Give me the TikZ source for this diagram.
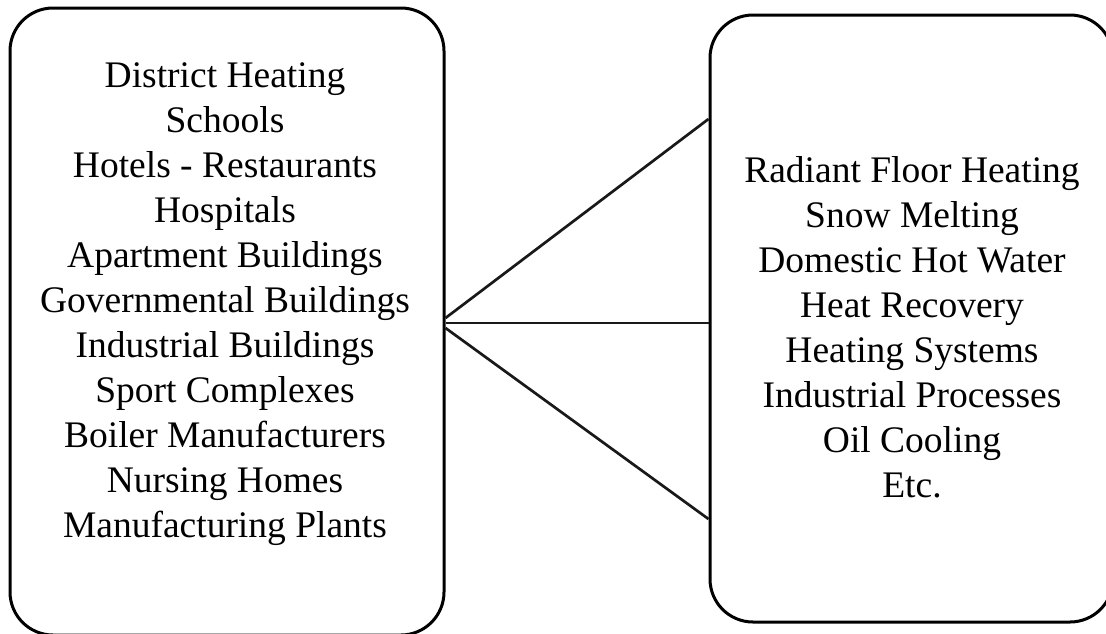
\documentclass[tikz,border=0pt]{standalone}
\usepackage{fontspec}
\setmainfont{Liberation Serif}
\usepackage{tikz}
\tikzset{
roundboxv1/.style={rectangle, draw=black!100,fill=none,line width=3pt, rounded corners=43pt, inner sep=0pt},
listtextv1/.style={align=center, inner sep=0pt, anchor=base, font=\fontsize{37.5}{45}\selectfont},
linkv1/.style={line width=2.7pt, draw=black!90},
}

\begin{document}
\begin{tikzpicture}[x=1pt,y=-1pt]
    \useasboundingbox (0,0) rectangle (1106,633);
    \node[roundboxv1, minimum width=434pt, minimum height=627pt] at (227,321.5) (users) {};
    \node[roundboxv1, minimum width=403pt, minimum height=607pt] at (911.5,318.5) (uses) {};
    % base anchor sits on the last line
    \node[listtextv1] at (225,537) (userlist) {District Heating\\ Schools\\ Hotels - Restaurants\\ Hospitals\\ Apartment Buildings\\ Governmental Buildings\\ Industrial Buildings\\ Sport Complexes\\ Boiler Manufacturers\\ Nursing Homes\\ Manufacturing Plants};
    \node[listtextv1] at (912,497) (uselist) {Radiant Floor Heating\\ Snow Melting\\ Domestic Hot Water\\ Heat Recovery\\ Heating Systems\\ Industrial Processes\\ Oil Cooling\\ Etc.};
    \draw[linkv1] ([yshift=3.5pt]users.east) to ([yshift=199.5pt]uses.west);
    \draw[linkv1] ([yshift=-1.5pt]users.east) to ([yshift=-4.5pt]uses.west);
    \draw[linkv1] ([yshift=-6.5pt]users.east) to ([yshift=-200.5pt]uses.west);
\end{tikzpicture}
\end{document}
